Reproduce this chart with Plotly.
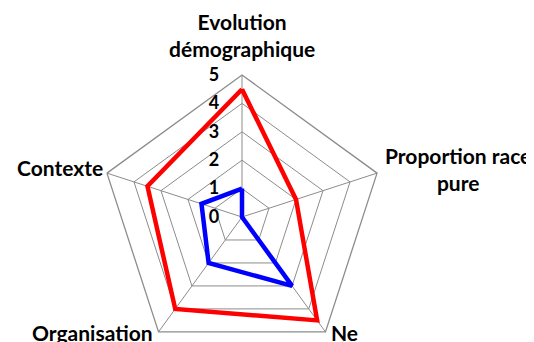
import plotly.graph_objects as go

categories = ["Evolution démographique", "Proportion race pure", "Ne", "Organisation", "Contexte"]
category_labels = ["Evolution<br>démographique", "Proportion race<br>pure", "Ne", "Organisation", "Contexte"]
red_values = [4.5, 2.0, 4.5, 4.0, 3.5]
blue_values = [1.0, 0.0, 3.0, 2.0, 1.5]
radial_ticks = [0, 1, 2, 3, 4, 5]

def closed(v):
    return v + v[:1]

fig = go.Figure()
fig.add_trace(go.Scatterpolar(r=closed(red_values), theta=closed(categories), mode="lines",
                              line=dict(color="#ff0000", width=4.5), showlegend=False))
fig.add_trace(go.Scatterpolar(r=closed(blue_values), theta=closed(categories), mode="lines",
                              line=dict(color="#0000ff", width=4.5), showlegend=False))

# category label placement (paper coordinates around the polar domain)
label_pos = [
    dict(x=0.5, y=1.028, xanchor="center", yanchor="bottom"),
    dict(x=1.262, y=0.664, xanchor="center", yanchor="middle"),
    dict(x=0.806, y=0.154, xanchor="left", yanchor="top"),
    dict(x=0.194, y=0.154, xanchor="right", yanchor="top"),
    dict(x=0.018, y=0.668, xanchor="right", yanchor="middle"),
]
label_font = dict(family="Lato", size=21, color="black", weight="bold")
for text, pos in zip(category_labels, label_pos):
    fig.add_annotation(text=text, xref="paper", yref="paper", showarrow=False,
                       align="center", font=label_font, **pos)

grid = "#8c8c8c"
fig.update_layout(
    width=534, height=355,
    margin=dict(l=92, r=158, t=63, b=0),
    paper_bgcolor="white",
    font=dict(family="Lato", size=18, color="black", weight="bold"),
    polar=dict(
        bgcolor="white",
        gridshape="linear",
        radialaxis=dict(range=[0, 5], tickvals=radial_ticks, angle=90, side="counterclockwise",
                        showline=False, gridcolor=grid, gridwidth=1.3, tickangle=90,
                        ticks="outside", ticklen=16, tickcolor="rgba(0,0,0,0)",
                        tickfont=dict(family="Lato", size=18, color="black", weight="bold")),
        angularaxis=dict(rotation=90, direction="clockwise", linecolor=grid, linewidth=1.3,
                         gridcolor=grid, gridwidth=1.3, ticks="", showticklabels=False),
    ),
)
fig.write_html("out.html")
